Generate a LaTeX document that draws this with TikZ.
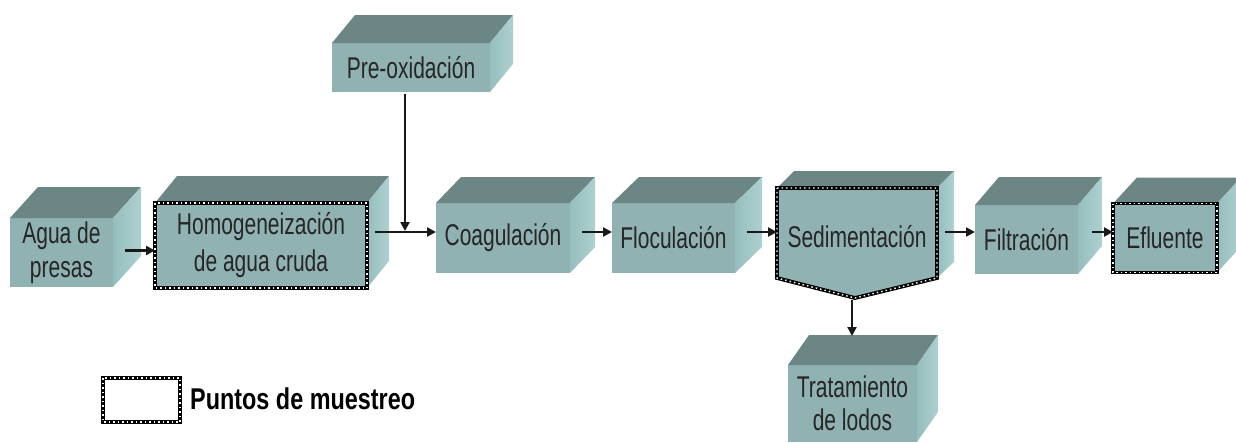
\documentclass[tikz,border=0pt]{standalone}
\usepackage{fontspec}
\setmainfont{Liberation Sans}[FakeStretch=0.7]
\newfontfamily\legfont{Liberation Sans}[FakeStretch=0.78]
\usetikzlibrary{arrows.meta,calc}
\definecolor{frontc}{RGB}{144,178,178}
\definecolor{topc}{RGB}{108,134,134}
\definecolor{sidea}{RGB}{150,190,190}
\definecolor{sideb}{RGB}{174,208,208}
\definecolor{txt}{RGB}{38,38,38}
\definecolor{arrc}{RGB}{25,25,25}
\newcommand\cubefaces[3]{%
  \fill[topc] (#1.north west) -- ++(#2,-#3) -- ($(#1.north east)+(#2,-#3)$) -- (#1.north east) -- cycle;
  \shade[left color=sidea,right color=sideb] (#1.north east) -- ++(#2,-#3) -- ($(#1.south east)+(#2,-#3)$) -- (#1.south east) -- cycle;}
\newcommand\dotframe[1]{%
  \draw[dotk] (#1.north west) rectangle (#1.south east);
  \draw[dotw] (#1.north west) rectangle (#1.south east);}
\begin{document}
\begin{tikzpicture}[x=1pt,y=-1pt,
  front/.style={fill=frontc, inner sep=0pt, outer sep=0pt, align=center, text=txt,
    font=\fontsize{30}{33}\selectfont},
  dotk/.style={draw=black, line width=3.8pt},
  dotw/.style={draw=white, line width=1.4pt, dash pattern=on 1.5pt off 3pt},
  arr/.style={draw=arrc, line width=2.6pt, -{Triangle[length=9pt,width=9pt]}}]
\useasboundingbox (0,0) rectangle (1236,442);

% boxes
\node[front, minimum width=158pt, minimum height=49pt] (preox) at (411,67.5) {Pre-oxidación};
\cubefaces{preox}{23}{28}
\node[front, minimum width=103pt, minimum height=69pt, font=\fontsize{30}{34}\selectfont] (agua) at (61.5,252.5) {Agua de\\presas};
\cubefaces{agua}{28}{31}
\node[front, minimum width=212pt, minimum height=85pt, font=\fontsize{30}{37}\selectfont] (homog) at (261,245.5) {Homogeneización\\de agua cruda};
\cubefaces{homog}{22}{27}
\dotframe{homog}
\node[front, minimum width=134pt, minimum height=70pt] (coag) at (503,238) {Coagulación};
\cubefaces{coag}{25}{26}
\node[front, minimum width=123pt, minimum height=70pt] (floc) at (673.5,238) {Floculación};
\cubefaces{floc}{27}{26}
% sedimentacion (pentagon)
\fill[topc] (777,188) -- (794,171) -- (954,171) -- (937,188) -- cycle;
\shade[left color=sidea,right color=sideb] (937,188) -- (954,171) -- (954,262) -- (937,278) -- cycle;
\fill[frontc] (777,188) -- (937,188) -- (937,278) -- (855,298) -- (777,278) -- cycle;
\draw[dotk] (777,188) -- (937,188) -- (937,278) -- (855,298) -- (777,278) -- cycle;
\draw[dotw] (777,188) -- (937,188) -- (937,278) -- (855,298) -- (777,278) -- cycle;
\node[inner sep=0pt, outer sep=0pt, minimum width=160pt, minimum height=90pt, text=txt,
  font=\fontsize{30}{33}\selectfont] (sed) at (857,237) {Sedimentación};
\coordinate (sedtip) at (852,300);
\node[front, minimum width=103pt, minimum height=69pt] (filt) at (1026.5,239.5) {Filtración};
\cubefaces{filt}{24}{28}
\node[front, minimum width=104pt, minimum height=69pt] (efl) at (1165,238) {Efluente};
\cubefaces{efl}{24}{26}
\dotframe{efl}
\node[front, minimum width=129pt, minimum height=77pt] (trat) at (852.5,403.5) {Tratamiento\\de lodos};
\cubefaces{trat}{21}{30}
\coordinate (trattop) at (852,336);

% connectors
\coordinate (join) at (405,232);
\draw[arr] ($(agua.east)+(12,-2)$) -- ($(agua.east -| homog.west)+(0,-2)$);
\draw[arr] ($(homog.east |- join)+(8,0)$) -- (join -| coag.west);
\draw[arr] ($(preox.south)+(-6,2)$) -- ($(join)+(0,-1)$);
\draw[arr] ($(coag.east |- join)+(12,0)$) -- (join -| floc.west);
\draw[arr] ($(floc.east |- join)+(12,0)$) -- (join -| sed.west);
\draw[arr] ($(sed.east |- join)+(8,0)$) -- (join -| filt.west);
\draw[arr] ($(filt.east |- join)+(14,0)$) -- (join -| efl.west);
\draw[arr] (sedtip) -- (trattop);

% legend
\node[fill=white, inner sep=0pt, outer sep=0pt, minimum width=77pt, minimum height=44pt] (leg) at (141.5,400) {};
\dotframe{leg}
\node[anchor=west, inner sep=0pt, font=\legfont\bfseries\fontsize{30}{33}\selectfont] (legt) at (190,399) {Puntos de muestreo};
\end{tikzpicture}
\end{document}
